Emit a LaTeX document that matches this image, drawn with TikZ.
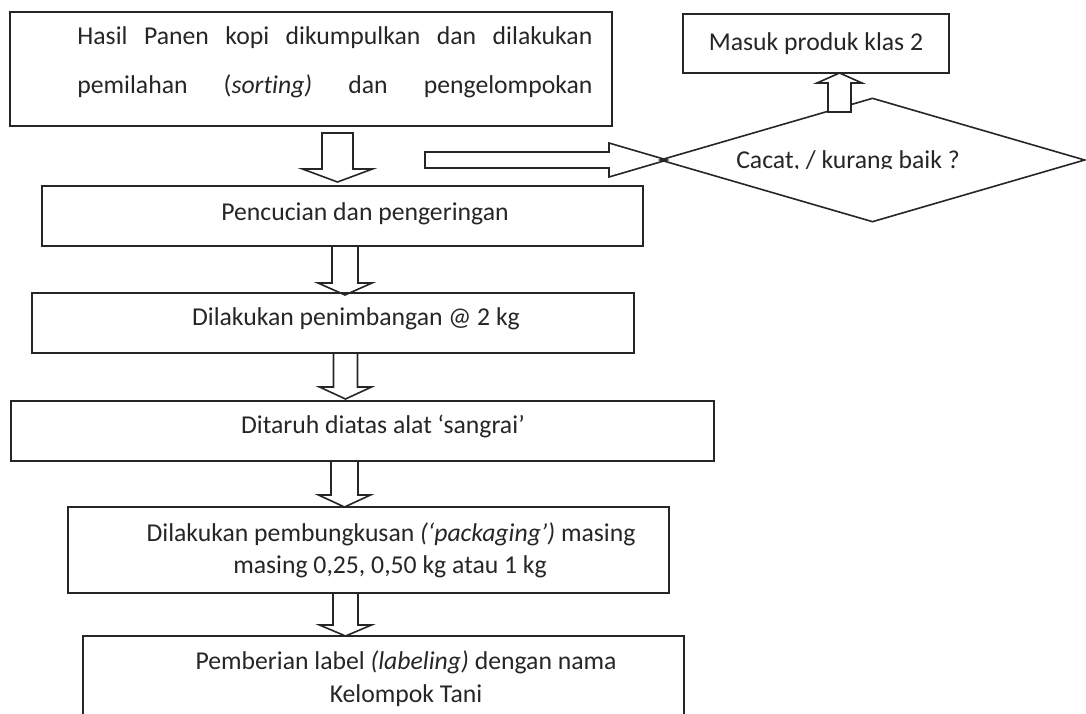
\documentclass[tikz,border=0pt]{standalone}
\usepackage{fontspec}
\setmainfont{Carlito}[Ligatures=NoCommon]
\usetikzlibrary{shapes.geometric,fit}
\newcommand\fsz{\fontsize{12.85pt}{16pt}\selectfont}
% vertical block arrow: #2 x centre, #3 y start, #4 y head base, #5 y tip, #6 shaft half width, #7 head half width
\newcommand\blkv[7][]{\draw[blk,#1] ({#2-#6},#3) -- ({#2-#6},#4) -- ({#2-#7},#4) -- (#2,#5) -- ({#2+#7},#4) -- ({#2+#6},#4) -- ({#2+#6},#3) -- cycle;}
% horizontal block arrow: #2 y centre, #3 x start, #4 x head base, #5 x tip, #6 shaft half width, #7 head half width
\newcommand\blkh[7][]{\draw[blk,#1] (#3,{#2-#6}) -- (#4,{#2-#6}) -- (#4,{#2-#7}) -- (#5,#2) -- (#4,{#2+#7}) -- (#4,{#2+#6}) -- (#3,{#2+#6}) -- cycle;}
\begin{document}
\begin{tikzpicture}[x=0.5pt,y=-0.5pt,line join=miter,
  box/.style={draw=black!85,line width=0.8pt,inner sep=0pt,rectangle},
  blk/.style={draw=black!85,line width=0.8pt},
  txt/.style={font=\fsz,inner sep=0pt,anchor=base,text=black!85}]
\clip (0,0) rectangle (1086,713);
\fill[white] (0,0) rectangle (1086,713);

% boxes
\node[box,fit={(10,12) (612,126)}] (b1) {};
\node[box,fit={(42,186) (643,246)}] (b2) {};
\node[box,fit={(32,293) (634,353)}] (b3) {};
\node[box,fit={(11,401) (714,461)}] (b4) {};
\node[box,fit={(68,507) (669,593)}] (b5) {};
\node[box,fit={(83,636) (684,740)}] (b6) {};
\node[box,fit={(683,14) (949,73)}] (m2) {};

% texts
\node[txt,anchor=base west] (t1a) at (77,44) {\makebox[257.5pt][s]{Hasil Panen kopi dikumpulkan dan dilakukan}};
\node[txt,anchor=base west] (t1b) at (77,93) {\makebox[257.5pt][s]{pemilahan (\textit{sorting)} dan pengelompokan}};
\node[txt] (t2) at (365,220) {Pencucian dan pengeringan};
\node[txt] (t3) at (356,325) {Dilakukan penimbangan @ 2 kg};
\node[txt] (t4) at (383,433) {Ditaruh diatas alat ‘sangrai’};
\node[txt] (t5a) at (391,541) {Dilakukan pembungkusan \textit{(‘packaging’)} masing};
\node[txt] (t5b) at (390,573) {masing 0,25, 0,50 kg atau 1 kg};
\node[txt] (t6a) at (406,669) {Pemberian label \textit{(labeling)} dengan nama};
\node[txt] (t6b) at (406,702) {Kelompok Tani};
\node[txt] (tm2) at (816,50) {Masuk produk klas 2};

% down block arrows
\blkv{337.5}{133}{169}{182}{15.5}{35}
\blkv{345}{246}{283}{295}{13}{27}
\blkv{345.5}{353}{387}{399}{12}{26}
\blkv{344.5}{461}{495}{507}{13.5}{26}
\blkv{345.5}{593}{625}{636}{12.5}{26}

% right block arrow towards decision
\blkh{160}{425}{609}{667}{8}{17}

% decision
\node[draw=black!85,line width=0.8pt,diamond,inner sep=0pt,
      minimum width=212.5pt,minimum height=62pt] (dia) at (872.5,160) {};
\begin{scope}
  \clip (700,120) rectangle (1000,168.5);
  \node[txt] (tdia) at (848,168) {Cacat, / kurang baik ?};
\end{scope}

% up block arrow to class 2
\blkv[fill=white]{839.5}{112}{83}{73}{11.5}{22.5}
\end{tikzpicture}
\end{document}
